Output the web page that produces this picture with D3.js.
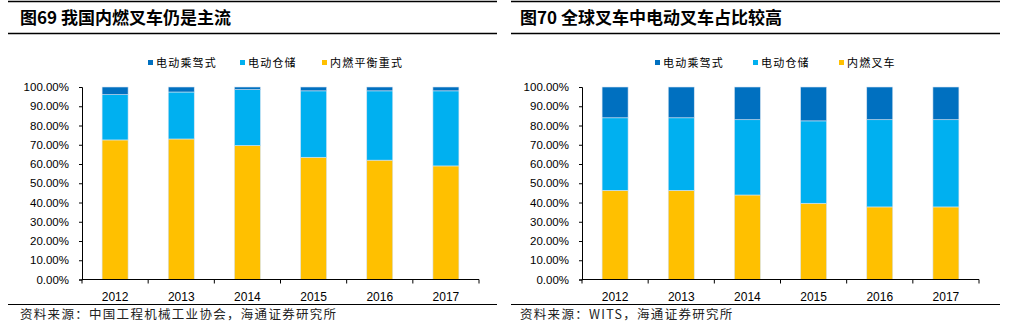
<!DOCTYPE html>
<html>
<head>
<meta charset="utf-8">
<script src="https://cdn.jsdelivr.net/npm/d3@7"></script>
<style>
  body { margin: 0; background: #fff; }
  text { font-family: "Liberation Sans", Arial, sans-serif; }
  .cjk { font-family: "Noto Sans CJK SC", sans-serif; }
</style>
</head>
<body>
<div id="chart"></div>
<script>
// categories
let years = ['2012', '2013', '2014', '2015', '2016', '2017'];
let yTicks = [0, 10, 20, 30, 40, 50, 60, 70, 80, 90, 100];

// fig 69 - china forklift mix (%)
let leftKeys = ['电动乘驾式', '电动仓储', '内燃平衡重式'];
let leftRider = [4.0, 2.6, 1.4, 2.0, 2.0, 2.0];
let leftWarehouse = [23.5, 24.4, 29.0, 34.5, 36.0, 39.0];
let leftIC = [72.5, 73.0, 69.6, 63.5, 62.0, 59.0];

// fig 70 - global forklift mix (%)
let rightKeys = ['电动乘驾式', '电动仓储', '内燃叉车'];
let rightRider = [16.0, 16.0, 17.0, 17.6, 17.0, 17.0];
let rightWarehouse = [37.7, 37.7, 39.1, 42.8, 45.3, 45.3];
let rightIC = [46.3, 46.3, 43.9, 39.6, 37.7, 37.7];

let colors = ['#0070C0', '#00B0F0', '#FFC000'];

let svg = d3.select('#chart').append('svg')
    .attr('width', 1009)
    .attr('height', 331);

function drawPanel(offsetX, lineX, title, source, keys, series, legendX) {
    let g = svg.append('g').attr('transform', `translate(${offsetX},0)`);

    // header rules + title
    g.append('line').attr('x1', lineX[0]).attr('x2', lineX[1]).attr('y1', 1.5).attr('y2', 1.5)
        .attr('stroke', '#000').attr('stroke-width', 1.5);
    g.append('line').attr('x1', lineX[0]).attr('x2', lineX[1]).attr('y1', 33.5).attr('y2', 33.5)
        .attr('stroke', '#000').attr('stroke-width', 1.5);
    g.append('text').attr('class', 'cjk')
        .attr('x', 20).attr('y', 24)
        .attr('font-size', 17).attr('font-weight', 'bold')
        .text(title);

    // table for the stack
    let table = years.map((y, i) => {
        let row = {year: y};
        keys.forEach((k, j) => row[k] = series[j][i]);
        return row;
    });
    // stack from bottom: last key sits at the bottom
    let stack = d3.stack().keys(keys.slice().reverse())(table);

    let x = d3.scaleBand().domain(years).range([82, 479]);
    let y = d3.scaleLinear().domain([0, 100]).range([279.5, 87]);

    stack.forEach(layer => {
        let ci = keys.indexOf(layer.key);
        g.append('g').selectAll('rect')
            .data(layer)
            .enter()
            .append('rect')
            .attr('x', d => x(d.data.year) + x.bandwidth() / 2 - 13)
            .attr('width', 26)
            .attr('y', d => y(d[1]))
            .attr('height', d => y(d[0]) - y(d[1]))
            .attr('fill', colors[ci])
            .attr('stroke', '#d6e3f0')
            .attr('stroke-width', 0.6);
    });

    // y axis
    let yAxis = d3.axisLeft(y).tickValues(yTicks).tickSize(3).tickPadding(10)
        .tickFormat(d => d.toFixed(2) + '%');
    let ya = g.append('g').attr('transform', 'translate(82,0)').call(yAxis);
    ya.select('.domain').attr('stroke', '#000');
    ya.selectAll('text').attr('font-size', 11.5).attr('fill', '#000')
        .attr('font-family', '"Liberation Sans", Arial, sans-serif');

    // x axis with ticks at band edges
    let xa = g.append('g').attr('transform', 'translate(0,279.5)');
    xa.append('line').attr('x1', 82).attr('x2', 479).attr('stroke', '#000');
    let edges = years.map(yr => x(yr)).concat([479]);
    xa.selectAll('.edge').data(edges).enter().append('line')
        .attr('x1', d => d).attr('x2', d => d).attr('y1', 0).attr('y2', 4)
        .attr('stroke', '#000');
    xa.selectAll('.lab').data(years).enter().append('text')
        .attr('x', d => x(d) + x.bandwidth() / 2)
        .attr('y', 21.5)
        .attr('text-anchor', 'middle')
        .attr('font-size', 12)
        .text(d => d);

    // legend
    keys.forEach((k, i) => {
        g.append('rect').attr('x', legendX[i]).attr('y', 60)
            .attr('width', 5).attr('height', 5).attr('fill', colors[i]);
        g.append('text').attr('class', 'cjk')
            .attr('x', legendX[i] + 8).attr('y', 67)
            .attr('font-size', 11).attr('letter-spacing', 1.2)
            .text(k);
    });

    // footer
    g.append('line').attr('x1', lineX[0]).attr('x2', lineX[1]).attr('y1', 304.5).attr('y2', 304.5)
        .attr('stroke', '#000').attr('stroke-width', 1.2);
    g.append('text').attr('class', 'cjk')
        .attr('x', 20).attr('y', 319)
        .attr('font-size', 12.5).attr('letter-spacing', 1.3)
        .attr('fill', '#222')
        .text(source);
}

drawPanel(0, [8, 497], '图69 我国内燃叉车仍是主流', '资料来源：中国工程机械工业协会，海通证券研究所',
    leftKeys, [leftRider, leftWarehouse, leftIC], [148, 240, 322]);
drawPanel(500, [11, 500], '图70 全球叉车中电动叉车占比较高', '资料来源：WITS，海通证券研究所',
    rightKeys, [rightRider, rightWarehouse, rightIC], [155, 253, 339]);
</script>
</body>
</html>
